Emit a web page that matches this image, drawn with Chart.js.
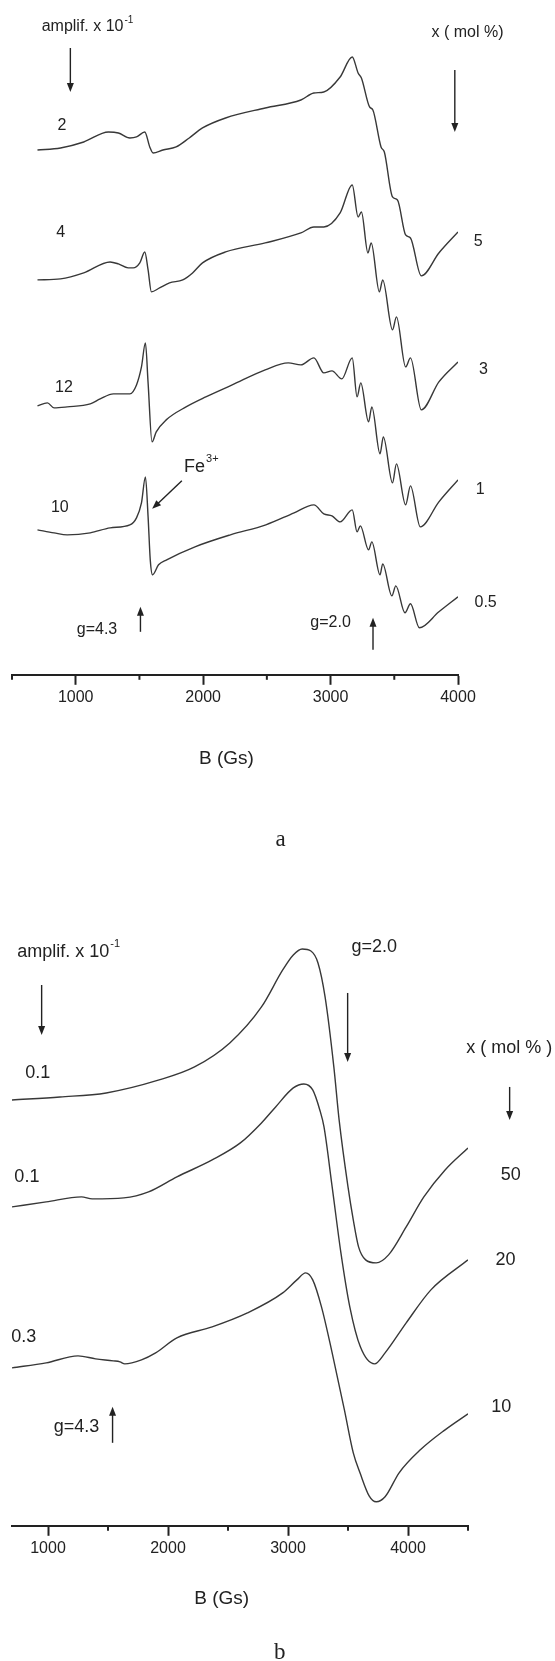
<!DOCTYPE html>
<html>
<head>
<meta charset="utf-8">
<title>EPR spectra</title>
<script src="https://cdn.jsdelivr.net/npm/chart.js@4/dist/chart.umd.min.js"></script>
<style>
  body { margin: 0; background: #fff; }
  .panel { position: absolute; left: 0; width: 555px; }
  #wrapA { top: 0; height: 870px; }
  #wrapB { top: 870px; height: 791px; }
</style>
</head>
<body>
<div class="panel" id="wrapA"><canvas id="chartA"></canvas></div>
<div class="panel" id="wrapB"><canvas id="chartB"></canvas></div>
<script>
'use strict';

// ---- data, panel a (B in Gs, signal in arbitrary units from the baseline) ----
const fieldA1 = [700, 881, 1063, 1257, 1335, 1425, 1477, 1542, 1581, 1607, 1684, 1788, 1891, 1995, 2176, 2487, 2767, 2869, 2947, 3075, 3170, 3216, 3242, 3306, 3332, 3396, 3422, 3486, 3525, 3589, 3627, 3712, 3850, 4000];
const sigA1 = [0, 2, 8, 18, 17, 12, 13, 18, 3, -3, 0, 3, 12, 22, 32, 42, 50, 57, 58, 73, 93, 77, 72, 43, 40, 3, -2, -47, -50, -85, -88, -126, -103, -82];

const fieldA2 = [700, 881, 1063, 1270, 1335, 1412, 1451, 1503, 1542, 1568, 1594, 1658, 1736, 1840, 1917, 1995, 2176, 2487, 2767, 2869, 2947, 3075, 3170, 3216, 3242, 3293, 3319, 3383, 3409, 3486, 3517, 3589, 3627, 3712, 3850, 4000];
const sigA2 = [0, 1, 7, 18, 16, 12, 12, 17, 28, 10, -12, -8, -3, 0, 7, 17, 28, 37, 47, 53, 53, 67, 95, 63, 68, 27, 37, -12, 0, -50, -37, -87, -78, -130, -102, -82];

const fieldA3 = [700, 778, 830, 933, 1114, 1192, 1296, 1425, 1477, 1516, 1547, 1568, 1599, 1632, 1710, 1866, 2021, 2228, 2487, 2668, 2767, 2869, 2947, 3011, 3088, 3170, 3208, 3237, 3298, 3324, 3388, 3414, 3486, 3517, 3589, 3627, 3704, 3850, 4000];
const sigA3 = [0, 3, -2, -1, 2, 7, 12, 12, 21, 39, 63, 23, -36, -26, -14, -1, 9, 21, 36, 43, 41, 48, 33, 35, 27, 48, 9, 23, -16, -1, -48, -31, -77, -58, -99, -80, -121, -96, -74];

const fieldA4 = [700, 830, 933, 1114, 1270, 1425, 1477, 1516, 1547, 1568, 1585, 1603, 1650, 1714, 1936, 2214, 2492, 2714, 2869, 2947, 3011, 3075, 3170, 3208, 3234, 3298, 3324, 3388, 3409, 3481, 3512, 3584, 3627, 3697, 3850, 4000];
const sigA4 = [0, -3, -5, -3, 2, 5, 12, 27, 53, 13, -30, -45, -35, -30, -17, -5, 5, 17, 25, 16, 14, 8, 20, -2, 4, -20, -12, -45, -34, -66, -56, -83, -74, -98, -82, -67];

const offsetsA = [525, 395, 269, 145];
const molA = ['5', '3', '1', '0.5'];
const amplifA = ['2', '4', '12', '10'];
const ticksA = [1000, 2000, 3000, 4000];
const minorA = [500, 1500, 2500, 3500];

// ---- data, panel b ----
const fieldB1 = [700, 1100, 1485, 1926, 2221, 2515, 2779, 2956, 3044, 3118, 3191, 3250, 3309, 3382, 3426, 3500, 3544, 3588, 3647, 3735, 3838, 3985, 4132, 4309, 4500];
const sigB1 = [0, 3, 7, 20, 33, 57, 93, 130, 145, 151, 149, 137, 103, 33, -20, -87, -120, -147, -160, -163, -155, -127, -97, -70, -48];

const fieldB2 = [700, 985, 1279, 1368, 1632, 1838, 2074, 2368, 2603, 2779, 2897, 3044, 3132, 3206, 3265, 3300, 3368, 3441, 3515, 3603, 3721, 3809, 3985, 4191, 4500];
const sigB2 = [0, 5, 10, 8, 9, 15, 30, 47, 64, 84, 100, 119, 123, 117, 97, 80, 20, -46, -100, -140, -157, -146, -116, -83, -53];

const fieldB3 = [700, 985, 1250, 1397, 1544, 1600, 1640, 1779, 1897, 2074, 2368, 2662, 2956, 3074, 3147, 3206, 3279, 3368, 3470, 3544, 3603, 3676, 3735, 3809, 3926, 4103, 4309, 4500];
const sigB3 = [0, 5, 12, 9, 7, 6, 4, 8, 15, 30, 41, 55, 75, 88, 95, 88, 61, 15, -42, -85, -106, -128, -134, -129, -105, -82, -62, -46];

const offsetsB = [426, 319, 158];
const molB = ['50', '20', '10'];
const amplifB = ['0.1', '0.1', '0.3'];
const ticksB = [1000, 2000, 3000, 4000];
const minorB = [1500, 2500, 3500, 4500];

// ---- text and arrows (positions in B / signal units) ----
const sans = '"Liberation Sans", Arial, sans-serif';
const serif = '"Liberation Serif", "Times New Roman", serif';

const notesA = [
  { text: 'amplif. x 10', sup: '-1', x: 733, y: 648, align: 'left' },
  { text: 'x ( mol %)', x: 3792, y: 642, align: 'left' },
  { text: amplifA[0], x: 892, y: 549 },
  { text: amplifA[1], x: 883, y: 442 },
  { text: amplifA[2], x: 908, y: 287 },
  { text: amplifA[3], x: 875, y: 167 },
  { text: molA[0], x: 4158, y: 433 },
  { text: molA[1], x: 4200, y: 305 },
  { text: molA[2], x: 4175, y: 185 },
  { text: molA[3], x: 4217, y: 72 },
  { text: 'Fe', sup: '3+', x: 1850, y: 208, align: 'left', size: 18 },
  { text: 'g=4.3', x: 1167, y: 45 },
  { text: 'g=2.0', x: 3000, y: 52 },
  { text: 'B (Gs)', x: 2183, y: -84, size: 19 },
  { text: 'a', x: 2608, y: -165, size: 23, family: serif }
];
const arrowsA = [
  { x1: 958, y1: 627, x2: 958, y2: 583 },
  { x1: 3975, y1: 605, x2: 3975, y2: 543 },
  { x1: 1833, y1: 194, x2: 1600, y2: 166 },
  { x1: 1508, y1: 43, x2: 1508, y2: 68 },
  { x1: 3333, y1: 25, x2: 3333, y2: 57 }
];

const notesB = [
  { text: 'amplif. x 10', sup: '-1', x: 744, y: 574, align: 'left' },
  { text: 'g=2.0', x: 3718, y: 579 },
  { text: 'x ( mol % )', x: 4485, y: 478, align: 'left' },
  { text: amplifB[0], x: 915, y: 453 },
  { text: amplifB[1], x: 824, y: 349 },
  { text: amplifB[2], x: 797, y: 189 },
  { text: molB[0], x: 4856, y: 351 },
  { text: molB[1], x: 4812, y: 266 },
  { text: molB[2], x: 4777, y: 119 },
  { text: 'g=4.3', x: 1238, y: 99 },
  { text: 'B (Gs)', x: 2447, y: -73, size: 19 },
  { text: 'b', x: 2932, y: -127, size: 23, family: serif }
];
const arrowsB = [
  { x1: 947, y1: 541, x2: 947, y2: 491 },
  { x1: 3497, y1: 533, x2: 3497, y2: 464 },
  { x1: 4847, y1: 439, x2: 4847, y2: 406 },
  { x1: 1538, y1: 83, x2: 1538, y2: 119 }
];

// ---- helpers ----
function makeSet(field, sig, offset) {
  return {
    data: field.map((b, i) => ({ x: b, y: sig[i] + offset })),
    borderColor: '#383838',
    borderWidth: 1.4,
    pointRadius: 0,
    fill: false,
    cubicInterpolationMode: 'monotone'
  };
}

function drawArrow(ctx, x1, y1, x2, y2) {
  let ang = Math.atan2(y2 - y1, x2 - x1);
  let len = 9, half = 3.5;
  ctx.beginPath();
  ctx.moveTo(x1, y1);
  ctx.lineTo(x2 - Math.cos(ang) * len * 0.8, y2 - Math.sin(ang) * len * 0.8);
  ctx.stroke();
  ctx.beginPath();
  ctx.moveTo(x2, y2);
  ctx.lineTo(x2 - Math.cos(ang) * len - Math.sin(ang) * half, y2 - Math.sin(ang) * len + Math.cos(ang) * half);
  ctx.lineTo(x2 - Math.cos(ang) * len + Math.sin(ang) * half, y2 - Math.sin(ang) * len - Math.cos(ang) * half);
  ctx.closePath();
  ctx.fill();
}

function notesPlugin(notes, arrows, minor, baseSize) {
  return {
    id: 'notes',
    afterDraw(chart) {
      let ctx = chart.ctx;
      let xs = chart.scales.x;
      let ys = chart.scales.y;
      ctx.save();
      ctx.fillStyle = '#222';
      ctx.strokeStyle = '#222';

      // minor ticks
      ctx.lineWidth = 2;
      minor.forEach(v => {
        let px = xs.getPixelForValue(v);
        ctx.beginPath();
        ctx.moveTo(px, chart.chartArea.bottom);
        ctx.lineTo(px, chart.chartArea.bottom + 5);
        ctx.stroke();
      });

      ctx.textBaseline = 'middle';
      notes.forEach(n => {
        let px = xs.getPixelForValue(n.x);
        let py = ys.getPixelForValue(n.y);
        let size = n.size || baseSize;
        ctx.font = size + 'px ' + (n.family || sans);
        ctx.textAlign = n.align || 'center';
        ctx.fillText(n.text, px, py);
        if (n.sup) {
          let w = ctx.measureText(n.text).width;
          ctx.font = Math.round(size * 0.62) + 'px ' + sans;
          ctx.textAlign = 'left';
          ctx.fillText(n.sup, px + w + 1, py - size * 0.42);
        }
      });

      ctx.lineWidth = 1.4;
      arrows.forEach(a => {
        drawArrow(ctx, xs.getPixelForValue(a.x1), ys.getPixelForValue(a.y1),
          xs.getPixelForValue(a.x2), ys.getPixelForValue(a.y2));
      });
      ctx.restore();
    }
  };
}

function makeChart(id, sets, xMin, xMax, yMax, ticks, padding, plugin) {
  return new Chart(document.getElementById(id), {
    type: 'line',
    data: { datasets: sets },
    options: {
      responsive: true,
      maintainAspectRatio: false,
      animation: false,
      devicePixelRatio: 1,
      layout: { padding: padding },
      plugins: { legend: { display: false }, tooltip: { enabled: false } },
      scales: {
        x: {
          type: 'linear',
          min: xMin,
          max: xMax,
          afterBuildTicks: axis => { axis.ticks = ticks.map(v => ({ value: v })); },
          grid: { display: true, drawOnChartArea: false, drawTicks: true, tickLength: 10, tickWidth: 2, tickColor: '#222' },
          border: { display: true, color: '#222', width: 2 },
          ticks: {
            color: '#222',
            font: { family: sans, size: 16 },
            padding: 3,
            maxRotation: 0,
            autoSkip: false,
            callback: v => String(v)
          }
        },
        y: { display: false, min: 0, max: yMax }
      }
    },
    plugins: [plugin]
  });
}

// ---- executable code ----
let setsA = [
  makeSet(fieldA1, sigA1, offsetsA[0]),
  makeSet(fieldA2, sigA2, offsetsA[1]),
  makeSet(fieldA3, sigA3, offsetsA[2]),
  makeSet(fieldA4, sigA4, offsetsA[3])
];
let setsB = [
  makeSet(fieldB1, sigB1, offsetsB[0]),
  makeSet(fieldB2, sigB2, offsetsB[1]),
  makeSet(fieldB3, sigB3, offsetsB[2])
];

makeChart('chartA', setsA, 500, 4000, 655, ticksA,
  { top: 20, left: 12, right: 97, bottom: 160 }, notesPlugin(notesA, arrowsA, minorA, 16));
makeChart('chartB', setsB, 700, 4500, 636, ticksB,
  { top: 20, left: 12, right: 87, bottom: 100 }, notesPlugin(notesB, arrowsB, minorB, 18));
</script>
</body>
</html>
